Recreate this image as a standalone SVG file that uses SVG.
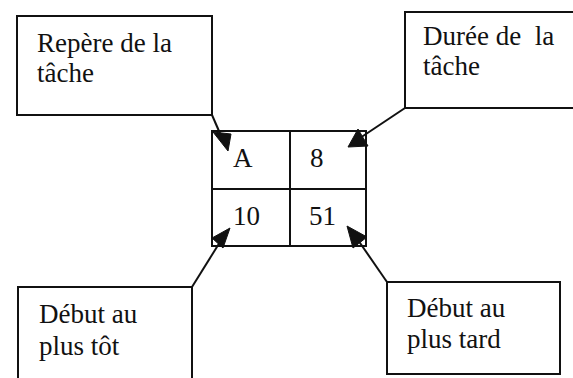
<svg xmlns="http://www.w3.org/2000/svg" width="573" height="378" viewBox="0 0 573 378">
<style>
  .box { fill: #fff; stroke: #111; stroke-width: 2; }
  .grid { fill: none; stroke: #111; stroke-width: 2; }
  .conn { stroke: #111; stroke-width: 2; fill: none; }
  .head { fill: #111; stroke: #111; stroke-width: 1; stroke-linejoin: round; }
  text { font-family: "Liberation Serif", "Times New Roman", serif; font-size: 27px; fill: #111; }
</style>
<rect width="573" height="378" fill="#fff"/>

<g id="node-repere">
  <rect class="box" x="17" y="16" width="195" height="99"/>
  <text x="37" y="52">Repère de la</text>
  <text x="37" y="82">tâche</text>
</g>

<g id="node-duree">
  <rect class="box" x="405" y="12" width="172" height="96"/>
  <text x="423" y="45" xml:space="preserve">Durée de  la</text>
  <text x="423" y="75">tâche</text>
</g>

<g id="node-tache">
  <rect class="grid" x="212" y="131" width="154" height="115"/>
  <line class="grid" x1="290" y1="131" x2="290" y2="246"/>
  <line class="grid" x1="212" y1="189" x2="366" y2="189"/>
  <text x="233" y="167">A</text>
  <text x="310" y="167">8</text>
  <text x="233" y="225">10</text>
  <text x="309" y="225">51</text>
</g>

<g id="node-debut-tot">
  <rect class="box" x="18" y="287" width="174" height="100"/>
  <text x="39" y="323">Début au</text>
  <text x="39" y="355">plus tôt</text>
</g>

<g id="node-debut-tard">
  <rect class="box" x="387" y="282" width="173" height="92"/>
  <text x="407" y="317">Début au</text>
  <text x="407" y="348">plus tard</text>
</g>

<g id="connectors">
  <line class="conn" x1="212" y1="115" x2="222" y2="138"/>
  <polygon class="head" points="213,132 231,134 228,151"/>
  <line class="conn" x1="405" y1="108" x2="360" y2="138"/>
  <polygon class="head" points="348,147 358,129 368,146"/>
  <line class="conn" x1="192" y1="287" x2="220" y2="242"/>
  <polygon class="head" points="230,228 212,238 223,248"/>
  <line class="conn" x1="387" y1="282" x2="358" y2="240"/>
  <polygon class="head" points="347,226 367,237 353,248"/>
</g>
</svg>
